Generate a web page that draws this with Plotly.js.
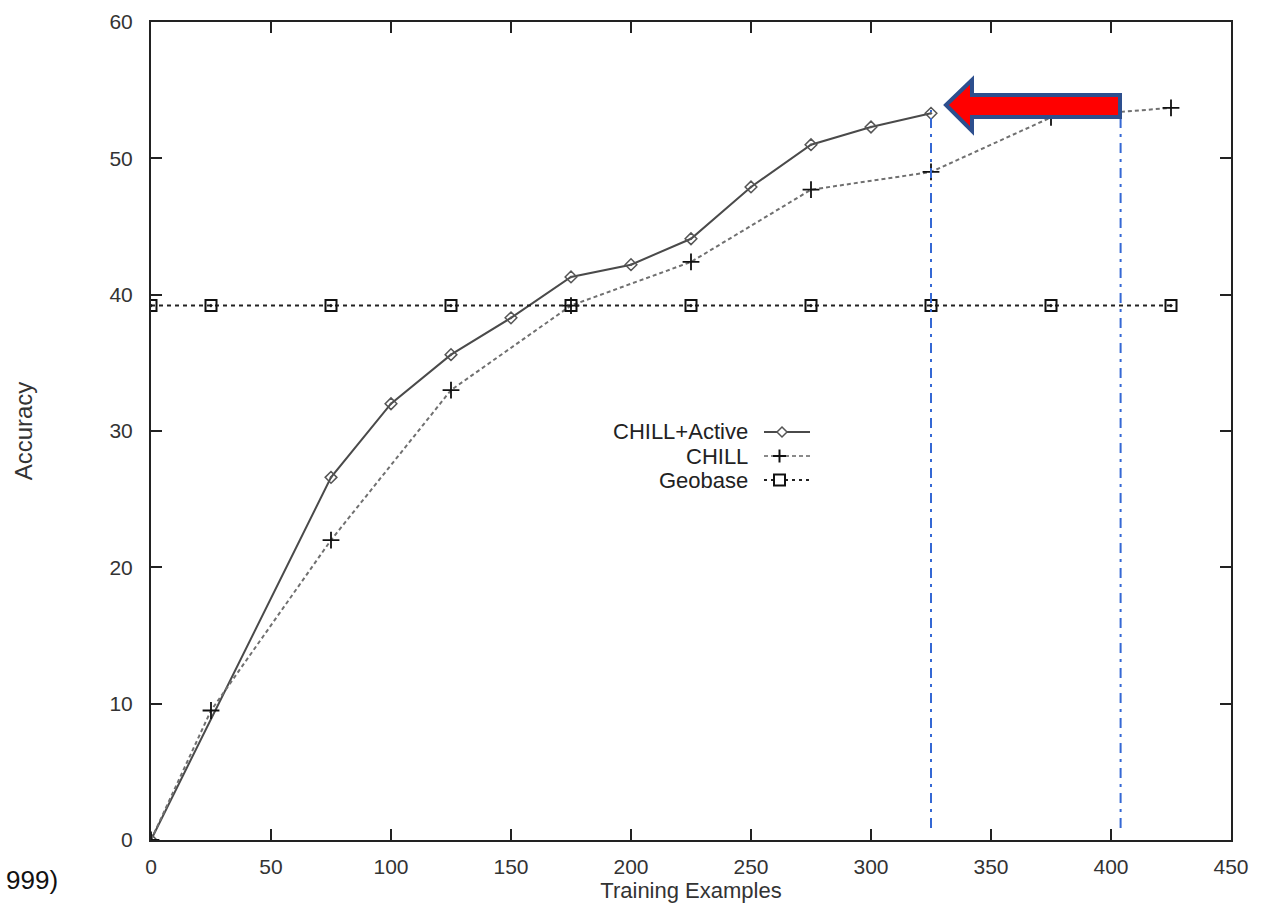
<!DOCTYPE html>
<html>
<head>
<meta charset="utf-8">
<script src="https://cdn.plot.ly/plotly-3.0.1.min.js"></script>
<style>html,body{margin:0;padding:0;background:#fff;} #chart{width:1264px;height:904px;}</style>
</head>
<body>
<div id="chart"></div>
<script>
// ---- data ----
const activeX = [0, 75, 100, 125, 150, 175, 200, 225, 250, 275, 300, 325];
const activeY = [0, 26.6, 32.0, 35.6, 38.3, 41.3, 42.2, 44.1, 47.9, 51.0, 52.3, 53.3];
const chillX = [0, 25, 75, 125, 175, 225, 275, 325, 375, 425];
const chillY = [0, 9.5, 22.0, 33.0, 39.2, 42.4, 47.7, 49.0, 53.0, 53.7];
const geoX = [0, 25, 75, 125, 175, 225, 275, 325, 375, 425];
const geoY = [39.2, 39.2, 39.2, 39.2, 39.2, 39.2, 39.2, 39.2, 39.2, 39.2];
const seriesNames = ["CHILL+Active", "CHILL", "Geobase"];
const xTicks = [0, 50, 100, 150, 200, 250, 300, 350, 400, 450];
const yTicks = [0, 10, 20, 30, 40, 50, 60];
const markerLinesX = [325, 404];

// ---- layout helpers (pixel -> paper) ----
const W = 1264, H = 904, L = 151, R = 33, T = 22, B = 64;
const PW = W - L - R, PH = H - T - B;
const px = v => (v - L) / PW;
const py = v => (H - B - v) / PH;
const FONT = "Liberation Sans, Arial, sans-serif";

const traces = [
  {x: activeX, y: activeY, name: seriesNames[0], mode: "lines+markers",
   line: {color: "#4a4a4a", width: 2},
   marker: {symbol: "diamond-open-dot", size: 9, color: "#555", line: {width: 1.5, color: "#555"}}},
  {x: chillX, y: chillY, name: seriesNames[1], mode: "lines+markers",
   line: {color: "#707070", width: 2, dash: "4px,3px"},
   marker: {symbol: "cross-thin-open", size: 12, color: "#111", line: {width: 1.8, color: "#111"}}},
  {x: geoX, y: geoY, name: seriesNames[2], mode: "lines+markers",
   line: {color: "#222", width: 2, dash: "4px,4px"},
   marker: {symbol: "square-open-dot", size: 11, color: "#111", line: {width: 2, color: "#111"}}}
];

const shapes = [];
const annotations = [];

// blue dash-dot guide lines
markerLinesX.forEach(xv => shapes.push({type: "line", xref: "x", yref: "paper",
  x0: xv, x1: xv, y0: py(828), y1: py(110),
  line: {color: "#3568d4", width: 2, dash: "10px,6px,3px,6px"}}));

// red arrow
const arrowPts = [[946,105],[972,80],[972,95],[1120,95],[1120,117],[972,117],[972,131]];
const arrowPath = "M" + arrowPts.map(p => px(p[0]) + "," + py(p[1])).join(" L") + " Z";
shapes.push({type: "path", xref: "paper", yref: "paper", path: arrowPath,
  fillcolor: "#ff0000", line: {color: "#2d4f8e", width: 4}});

// manual legend (text left of sample, as in the reference)
const legRows = [432, 456, 480];
const textRight = 750;
seriesNames.forEach((n, i) => annotations.push({xref: "paper", yref: "paper",
  x: px(textRight), y: py(legRows[i]), xanchor: "right", yanchor: "middle",
  text: n, showarrow: false, font: {family: FONT, size: 22, color: "#222"}}));
// samples
shapes.push({type: "line", xref: "paper", yref: "paper", x0: px(764), x1: px(810), y0: py(legRows[0]), y1: py(legRows[0]), line: {color: "#4a4a4a", width: 2}});
shapes.push({type: "path", xref: "paper", yref: "paper",
  path: `M${px(782)},${py(legRows[0]-5)} L${px(787)},${py(legRows[0])} L${px(782)},${py(legRows[0]+5)} L${px(777)},${py(legRows[0])} Z`,
  fillcolor: "#fff", line: {color: "#555", width: 1.5}});
shapes.push({type: "line", xref: "paper", yref: "paper", x0: px(764), x1: px(810), y0: py(legRows[1]), y1: py(legRows[1]), line: {color: "#8a8a8a", width: 2, dash: "4px,3px"}});
shapes.push({type: "line", xref: "paper", yref: "paper", x0: px(773), x1: px(786), y0: py(legRows[1]), y1: py(legRows[1]), line: {color: "#111", width: 2}});
shapes.push({type: "line", xref: "paper", yref: "paper", x0: px(779.5), x1: px(779.5), y0: py(legRows[1]-6.5), y1: py(legRows[1]+6.5), line: {color: "#111", width: 2}});
shapes.push({type: "line", xref: "paper", yref: "paper", x0: px(764), x1: px(812), y0: py(legRows[2]), y1: py(legRows[2]), line: {color: "#222", width: 2, dash: "3px,4px"}});
shapes.push({type: "rect", xref: "paper", yref: "paper", x0: px(774), x1: px(785), y0: py(legRows[2]-5.5), y1: py(legRows[2]+5.5), fillcolor: "#fff", line: {color: "#111", width: 2}});

// clipped text at bottom-left
annotations.push({xref: "paper", yref: "paper", x: px(60), y: py(880), xanchor: "right", yanchor: "middle",
  text: "999)", showarrow: false, font: {family: FONT, size: 26, color: "#111"}});

const axisCommon = {
  showgrid: false, zeroline: false, showline: true, linecolor: "#222", linewidth: 2,
  mirror: "ticks", ticks: "inside", ticklen: 11, tickwidth: 2, tickcolor: "#222",
  tickfont: {family: FONT, size: 21, color: "#333"}
};

const layout = {
  width: W, height: H,
  margin: {l: L, r: R, t: T, b: B, pad: 0},
  paper_bgcolor: "#fff", plot_bgcolor: "#fff",
  showlegend: false,
  xaxis: Object.assign({}, axisCommon, {range: [0, 450], tickvals: xTicks, ticktext: xTicks.map(String),
    ticklabelstandoff: 7,
    title: {text: "Training Examples", font: {family: FONT, size: 22, color: "#333"}, standoff: 0}}),
  yaxis: Object.assign({}, axisCommon, {range: [0, 60], tickvals: yTicks, ticktext: yTicks.map(String),
    ticklabelstandoff: 12,
    title: {text: "Accuracy", font: {family: FONT, size: 24, color: "#333"}, standoff: 70}}),
  shapes: shapes,
  annotations: annotations
};

Plotly.newPlot("chart", traces, layout, {displayModeBar: false, staticPlot: true});
</script>
</body>
</html>
